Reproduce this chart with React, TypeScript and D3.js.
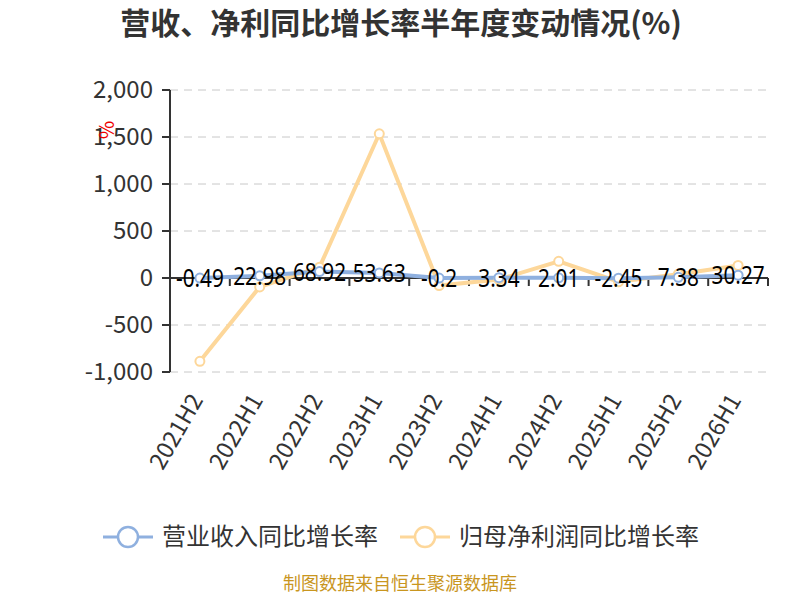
import { scaleBand, scaleLinear, line, format } from "d3";

const categories = ["2021H2", "2022H1", "2022H2", "2023H1", "2023H2", "2024H1", "2024H2", "2025H1", "2025H2", "2026H1"];
const revenueGrowth = [-0.49, 22.98, 68.92, 53.63, -0.2, 3.34, 2.01, -2.45, 7.38, 30.27];
const profitGrowth = [-886, -95, 115, 1534, -80, -16, 178, -40, 40, 133];
const yTicks = [-1000, -500, 0, 500, 1000, 1500, 2000];

const seriesNames = ["营业收入同比增长率", "归母净利润同比增长率"];
const blue = "#8fb0df";
const yellow = "#fdd79a";

const width = 800;
const height = 600;
const margin = { top: 90, right: 32, bottom: 228, left: 170 };

export default function App() {
  const x = scaleBand<string>()
    .domain(categories)
    .range([margin.left, width - margin.right]);
  const y = scaleLinear()
    .domain([-1000, 2000])
    .range([height - margin.bottom, margin.top]);

  const cx = (c: string) => (x(c) ?? 0) + x.bandwidth() / 2;
  const lineFn = (vals: number[]) =>
    line<number>()
      .x((_, i) => cx(categories[i]))
      .y((d) => y(d))(vals) ?? "";

  const fmt = (v: number) => format(",")(v).replace("−", "-");
  const y0 = y(0);
  const bottom = y(-1000);
  const boundaries = [...categories.map((c) => x(c) ?? 0), width - margin.right];

  return (
    <svg
      width={width}
      height={height}
      style={{ display: "block", position: "absolute", left: 0, top: 0 }}
      fontFamily="'Noto Sans CJK SC', 'Noto Sans', sans-serif"
    >
      <rect width={width} height={height} fill="#fff" />
      <text x={401} y={34} textAnchor="middle" fontSize={30} fontWeight="bold" fill="#333">
        营收、净利同比增长率半年度变动情况(%)
      </text>

      {/* grid + y axis */}
      {yTicks.map((t) => (
        <g key={t}>
          {t !== 0 && (
            <line x1={margin.left} x2={width - margin.right} y1={y(t)} y2={y(t)} stroke="#c8c8c8" strokeDasharray="8,6" />
          )}
          <line x1={margin.left - 8} x2={margin.left} y1={y(t)} y2={y(t)} stroke="#333" strokeWidth={2} />
          <text x={margin.left - 17} y={y(t)} dy="0.35em" textAnchor="end" fontSize={24} fill="#333">
            {fmt(t)}
          </text>
        </g>
      ))}
      <line x1={margin.left} x2={margin.left} y1={margin.top} y2={bottom} stroke="#333" strokeWidth={2} />
      <text transform={`translate(106,130) rotate(90)`} textAnchor="middle" dy="0.35em" fontSize={20} fill="#e00">
        %
      </text>

      {/* x axis at zero */}
      <line x1={margin.left} x2={width - margin.right} y1={y0} y2={y0} stroke="#333" strokeWidth={2} />
      {boundaries.map((bx, i) => (
        <line key={i} x1={bx} x2={bx} y1={y0} y2={y0 + 8} stroke="#333" strokeWidth={2} />
      ))}
      {categories.map((c) => (
        <text
          key={c}
          transform={`translate(${cx(c) + 4},${bottom + 28}) rotate(-60)`}
          textAnchor="end"
          fontSize={23.5}
          fill="#333"
        >
          {c}
        </text>
      ))}

      {/* series */}
      <path d={lineFn(profitGrowth)} fill="none" stroke={yellow} strokeWidth={4} />
      <path d={lineFn(revenueGrowth)} fill="none" stroke={blue} strokeWidth={4} />
      {profitGrowth.map((v, i) => (
        <circle key={"p" + i} cx={cx(categories[i])} cy={y(v)} r={4.5} fill="#fff" stroke={yellow} strokeWidth={2} />
      ))}
      {revenueGrowth.map((v, i) => (
        <circle key={"r" + i} cx={cx(categories[i])} cy={y(v)} r={4.5} fill="#fff" stroke={blue} strokeWidth={2} />
      ))}
      {revenueGrowth.map((v, i) => (
        <text
          key={"l" + i}
          transform={`translate(${cx(categories[i])},${y(v)}) scale(0.8,1)`}
          dy="0.35em"
          textAnchor="middle"
          fontSize={26}
          fill="#000"
          fontFamily="'Noto Sans', sans-serif"
        >
          {String(v)}
        </text>
      ))}

      {/* legend */}
      {seriesNames.map((name, i) => {
        const lx = i === 0 ? 103 : 400;
        const color = i === 0 ? blue : yellow;
        return (
          <g key={name}>
            <line x1={lx} x2={lx + 50} y1={537} y2={537} stroke={color} strokeWidth={3} />
            <circle cx={lx + 25} cy={537} r={10} fill="#fff" stroke={color} strokeWidth={2.5} />
            <text x={lx + 59} y={537} dy="0.35em" fontSize={24} fill="#333">
              {name}
            </text>
          </g>
        );
      })}

      <text x={400} y={590} textAnchor="middle" fontSize={18} fill="#c9961f">
        制图数据来自恒生聚源数据库
      </text>
    </svg>
  );
}
